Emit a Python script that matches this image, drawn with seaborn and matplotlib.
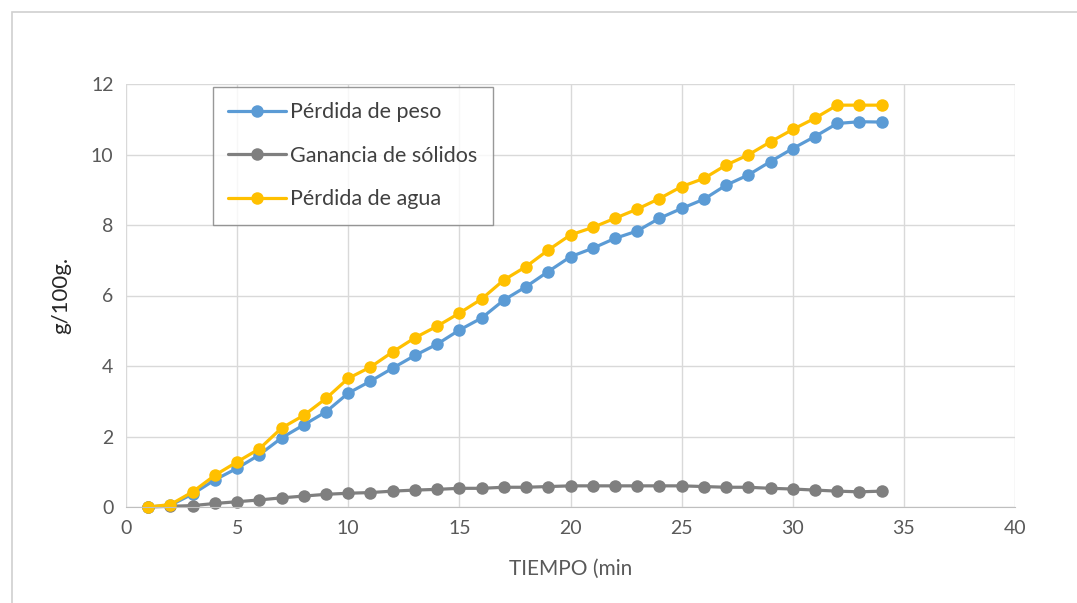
import matplotlib
matplotlib.use("Agg")
import matplotlib.pyplot as plt
import seaborn as sns
import pandas as pd
from matplotlib.patches import Rectangle

tiempo = list(range(1, 35))
perdida_peso = [0.0, 0.05, 0.37, 0.77, 1.1, 1.48, 1.96, 2.33, 2.7, 3.23,
                3.57, 3.94, 4.3, 4.62, 5.02, 5.36, 5.87, 6.25, 6.68, 7.10,
                7.34, 7.62, 7.83, 8.19, 8.47, 8.73, 9.13, 9.42, 9.80, 10.17,
                10.51, 10.88, 10.93, 10.92]
ganancia_solidos = [0.0, 0.02, 0.04, 0.10, 0.15, 0.20, 0.26, 0.31, 0.36, 0.39,
                    0.41, 0.45, 0.48, 0.50, 0.53, 0.53, 0.56, 0.56, 0.58, 0.60,
                    0.60, 0.60, 0.60, 0.60, 0.60, 0.58, 0.56, 0.56, 0.53, 0.51,
                    0.48, 0.45, 0.43, 0.45]
perdida_agua = [0.0, 0.07, 0.43, 0.90, 1.28, 1.65, 2.24, 2.60, 3.08, 3.65,
                3.97, 4.40, 4.80, 5.13, 5.50, 5.90, 6.44, 6.82, 7.29, 7.72,
                7.93, 8.19, 8.45, 8.75, 9.09, 9.32, 9.70, 9.99, 10.36, 10.71,
                11.03, 11.40, 11.40, 11.40]
series_names = ["Pérdida de peso", "Ganancia de sólidos", "Pérdida de agua"]
colors = ["#5B9BD5", "#7F7F7F", "#FFC000"]

df = pd.concat([
    pd.DataFrame({"t": tiempo, "v": perdida_peso, "s": series_names[0]}),
    pd.DataFrame({"t": tiempo, "v": ganancia_solidos, "s": series_names[1]}),
    pd.DataFrame({"t": tiempo, "v": perdida_agua, "s": series_names[2]}),
])

sns.set_style("white")
plt.rcParams["font.family"] = ["Lato", "DejaVu Sans"]

fig = plt.figure(figsize=(10.77, 6.03), dpi=100)
ax = fig.add_axes([126/1077, 1 - 507/603, (1015-126)/1077, (507-84)/603])

sns.lineplot(data=df, x="t", y="v", hue="s", palette=dict(zip(series_names, colors)),
             marker="o", markersize=9, markeredgewidth=0, linewidth=2.3, ax=ax,
             hue_order=series_names)
for ln in ax.get_lines():
    ln.set_clip_on(False)

ax.set_xlim(0, 40)
ax.set_ylim(0, 12)
ax.set_xticks(range(0, 41, 5))
ax.set_yticks(range(0, 13, 2))
ax.grid(True, color="#D9D9D9", linewidth=1)
ax.set_axisbelow(True)
for side in ["left", "top", "right"]:
    ax.spines[side].set_visible(False)
ax.spines["bottom"].set_color("#BFBFBF")
ax.tick_params(axis="both", length=0, labelsize=14, labelcolor="#595959", pad=9)
ax.set_xlabel("TIEMPO (min", fontsize=15, color="#595959", labelpad=16)
ax.set_ylabel("g/100g.", fontsize=16, color="#262626", labelpad=14)

leg = ax.legend(loc="upper left", bbox_to_anchor=((213-126)/889, 1 - (87-84)/423),
                frameon=True, fancybox=False, fontsize=15.5, handlelength=2.7,
                borderpad=0.7, labelspacing=1.1, handletextpad=0.2, borderaxespad=0)
leg.get_frame().set_edgecolor("#7F7F7F")
leg.get_frame().set_linewidth(1)
for t in leg.get_texts():
    t.set_color("#404040")

fig.patches.append(Rectangle((12/1077, -0.01), 1.0, 1 - 12/603 + 0.01, transform=fig.transFigure,
                             fill=False, edgecolor="#D0D0D0", linewidth=1.2))

fig.savefig("out.png", dpi=100)
